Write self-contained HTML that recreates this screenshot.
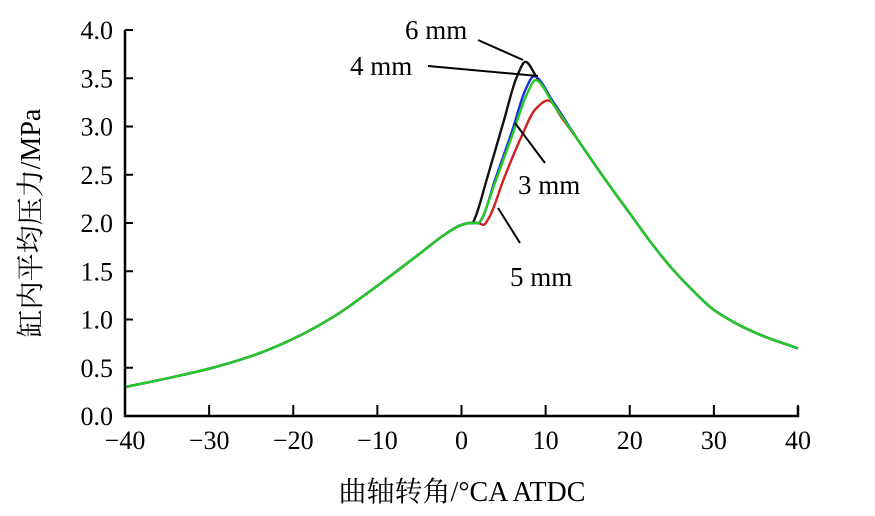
<!DOCTYPE html>
<html><head><meta charset="utf-8"><style>
body{margin:0;background:#fff}
svg{display:block;font-family:"Liberation Serif","Noto Serif CJK SC",serif}
</style></head><body>
<svg width="875" height="516" viewBox="0 0 875 516" style="position:absolute;left:0;top:0">
<g id="plot"></g>
<g id="axes"></g>
</svg>
<script>
const xTicks=[-40,-30,-20,-10,0,10,20,30,40];
const yTicks=[0,0.5,1.0,1.5,2.0,2.5,3.0,3.5,4.0];
const baseX=[-40,-35,-30,-25,-20,-15,-10,-5,-2,0,1];
const baseY=[0.3,0.39,0.49,0.62,0.8,1.04,1.35,1.68,1.88,1.98,2.0];
const tailX=[14,17.5,20,22.5,25,27.5,30,35,40];
const tailY=[2.84,2.4,2.1,1.8,1.53,1.3,1.1,0.86,0.7];
const seriesNames=['5 mm','3 mm','4 mm','6 mm'];
const seriesColors=['#d02020','#22cc22','#2030e0','#111111'];
const seriesX=[[2,2.6,3.3,5,7,8.8,10.3,12],[2,2.3,4,6,7.8,8.8,11],[2,2.4,4,6,7.6,8.6,11],[1.3,1.6,3,5,6.6,7.6,9,11]];
const seriesY=[[2.0,1.98,2.06,2.45,2.87,3.18,3.27,3.08],[2.0,2.03,2.42,2.9,3.34,3.48,3.22],[2.0,2.04,2.45,2.95,3.38,3.52,3.24],[2.0,2.05,2.45,3.05,3.52,3.67,3.5,3.24]];
const X0=125,X1=798,Y0=416,Y1=30;
const sx=v=>X0+(v+40)/80*(X1-X0);
const sy=v=>Y0-v/4*(Y0-Y1);
const NS='http://www.w3.org/2000/svg';
const plot=document.getElementById('plot'),axes=document.getElementById('axes');
function mk(tag,attrs,parent){const e=document.createElementNS(NS,tag);for(const k in attrs)e.setAttribute(k,attrs[k]);parent.appendChild(e);return e;}
function monotonePath(xs,ys){
  const n=xs.length,d=[],m=new Array(n);
  for(let i=0;i<n-1;i++)d.push((ys[i+1]-ys[i])/(xs[i+1]-xs[i]));
  m[0]=d[0];m[n-1]=d[n-2];
  for(let i=1;i<n-1;i++){
    if(d[i-1]*d[i]<=0)m[i]=0;
    else{const h0=xs[i]-xs[i-1],h1=xs[i+1]-xs[i];const w1=2*h1+h0,w2=h1+2*h0;m[i]=(w1+w2)/(w1/d[i-1]+w2/d[i]);}
  }
  let p='M'+sx(xs[0]).toFixed(2)+','+sy(ys[0]).toFixed(2);
  for(let i=0;i<n-1;i++){
    const h=xs[i+1]-xs[i];
    const c1x=xs[i]+h/3,c1y=ys[i]+m[i]*h/3,c2x=xs[i+1]-h/3,c2y=ys[i+1]-m[i+1]*h/3;
    p+='C'+sx(c1x).toFixed(2)+','+sy(c1y).toFixed(2)+' '+sx(c2x).toFixed(2)+','+sy(c2y).toFixed(2)+' '+sx(xs[i+1]).toFixed(2)+','+sy(ys[i+1]).toFixed(2);
  }
  return p;
}
const order=[0,3,2,1];
order.forEach(i=>{
  const xs=baseX.concat(seriesX[i],tailX), ys=baseY.concat(seriesY[i],tailY);
  const p=mk('path',{d:monotonePath(xs,ys),fill:'none',stroke:seriesColors[i],'stroke-width':2.4,'stroke-linejoin':'round'},plot);
  
  
});
const ax=mk('path',{d:`M${X0},${Y1}V${Y0}H${X1}V${Y0-10}`,fill:'none',stroke:'#000','stroke-width':2.5},axes);


xTicks.forEach(t=>{
  mk('line',{x1:sx(t),x2:sx(t),y1:Y0,y2:Y0-11,stroke:'#000','stroke-width':2},axes);
  const tx=mk('text',{x:sx(t),y:Y0+33,'text-anchor':'middle','font-size':26},axes);
  tx.textContent=(t<0?'\u2212'+(-t):t);
  
  
});
yTicks.forEach(t=>{
  mk('line',{x1:X0,x2:X0+8,y1:sy(t),y2:sy(t),stroke:'#000','stroke-width':2},axes);
  const tx=mk('text',{x:X0-12,y:sy(t)+9,'text-anchor':'end','font-size':26},axes);
  tx.textContent=t.toFixed(1);
  
  
});
</script>
<svg style="position:absolute;left:0;top:0" width="875" height="516">
<g font-family="Liberation Serif, serif" font-size="27" fill="#000">
<text x="405" y="39">6 mm</text>
<text x="350" y="75">4 mm</text>
<text x="518" y="194">3 mm</text>
<text x="510" y="286">5 mm</text>
</g>
<g stroke="#000" stroke-width="2">
<line x1="478" y1="40" x2="523" y2="60"/>
<line x1="428" y1="66" x2="538" y2="76"/>
<line x1="545" y1="163" x2="515" y2="123"/>
<line x1="520" y1="243" x2="498" y2="208"/>
</g>
<text x="462" y="501" text-anchor="middle" font-size="28" font-family="Liberation Serif, Noto Serif CJK SC, serif">曲轴转角/°CA ATDC</text>
<text transform="translate(40,223) rotate(-90)" text-anchor="middle" font-size="28" font-family="Liberation Serif, Noto Serif CJK SC, serif">缸内平均压力/MPa</text>
</svg>
</body></html>
